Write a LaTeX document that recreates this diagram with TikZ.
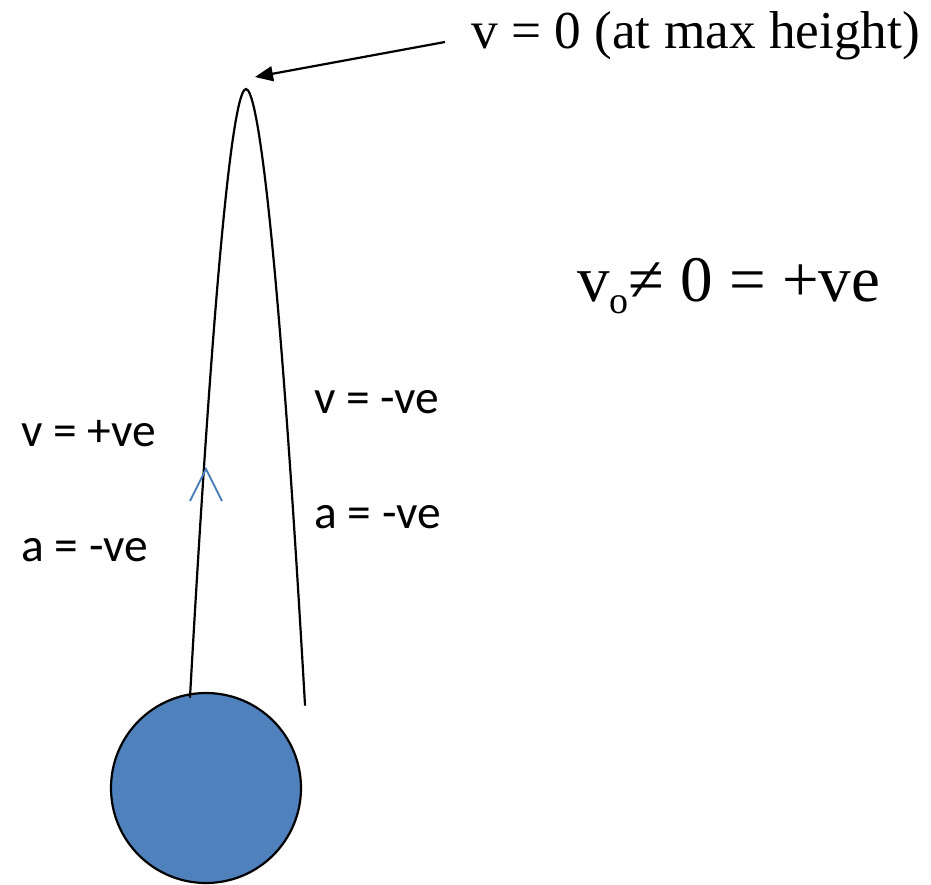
\documentclass[tikz,border=0pt]{standalone}
\usepackage{fontspec}
\setmainfont{Liberation Serif}
\newfontfamily\calibri{Carlito}
\usepackage{xcolor}
\definecolor{ballblue}{HTML}{4F81BD}
\definecolor{chevblue}{HTML}{4A7EBB}
\usepackage{tikz}
\usetikzlibrary{arrows.meta}
\tikzset{
  pathline/.style={line width=2.2pt, line cap=round},
  ball/.style    ={circle, draw=black, line width=2.2pt, fill=ballblue, minimum size=190pt, inner sep=0pt},
  arr/.style     ={-{Triangle[length=18pt,width=15pt]}, line width=2.2pt},
  chev/.style    ={draw=chevblue, line width=1.8pt},
  sgn/.style     ={font=\calibri\fontsize{47.5}{52}\selectfont, inner sep=0pt, anchor=base west},
  note/.style    ={inner sep=0pt, anchor=base west},
}

\begin{document}
\begin{tikzpicture}[x=1pt, y=-1pt]
  \useasboundingbox (0,0) rectangle (931,885);
  % the ball and its path
  \node[ball] (ball) at (206,788) {};
  \coordinate (up) at (190,697);
  \coordinate (apex) at (246,89);
  \coordinate (down) at (305,705);
  \draw[pathline] (up) .. controls (218,200) and (236,89) .. (apex)
                       .. controls (256,89) and (276,200) .. (down);
  % direction mark on the way up
  \coordinate (chevtip) at (206,469);
  \coordinate (chevl) at (190,501);
  \coordinate (chevr) at (222,501);
  \draw[chev] (chevl) -- (chevtip) -- (chevr);
  % labels
  \node[note, font=\fontsize{53.3}{58}\selectfont] (top) at (471,49) {v = 0 (at max height)};
  \coordinate (tail) at (445,42);
  \coordinate (head) at (255,77);
  \draw[arr] (tail) -- (head);
  \node[note, font=\fontsize{65}{70}\selectfont] (vo) at (577,301)
       {v\raisebox{-13pt}{\fontsize{38}{40}\selectfont o}≠ 0 = +ve};
  \node[sgn] (vup) at (21,446) {v = +ve};
  \node[sgn] (aup) at (21,561) {a = -ve};
  \node[sgn] (vdown) at (314,413) {v = -ve};
  \node[sgn] (adown) at (314,528) {a = -ve};
\end{tikzpicture}
\end{document}
